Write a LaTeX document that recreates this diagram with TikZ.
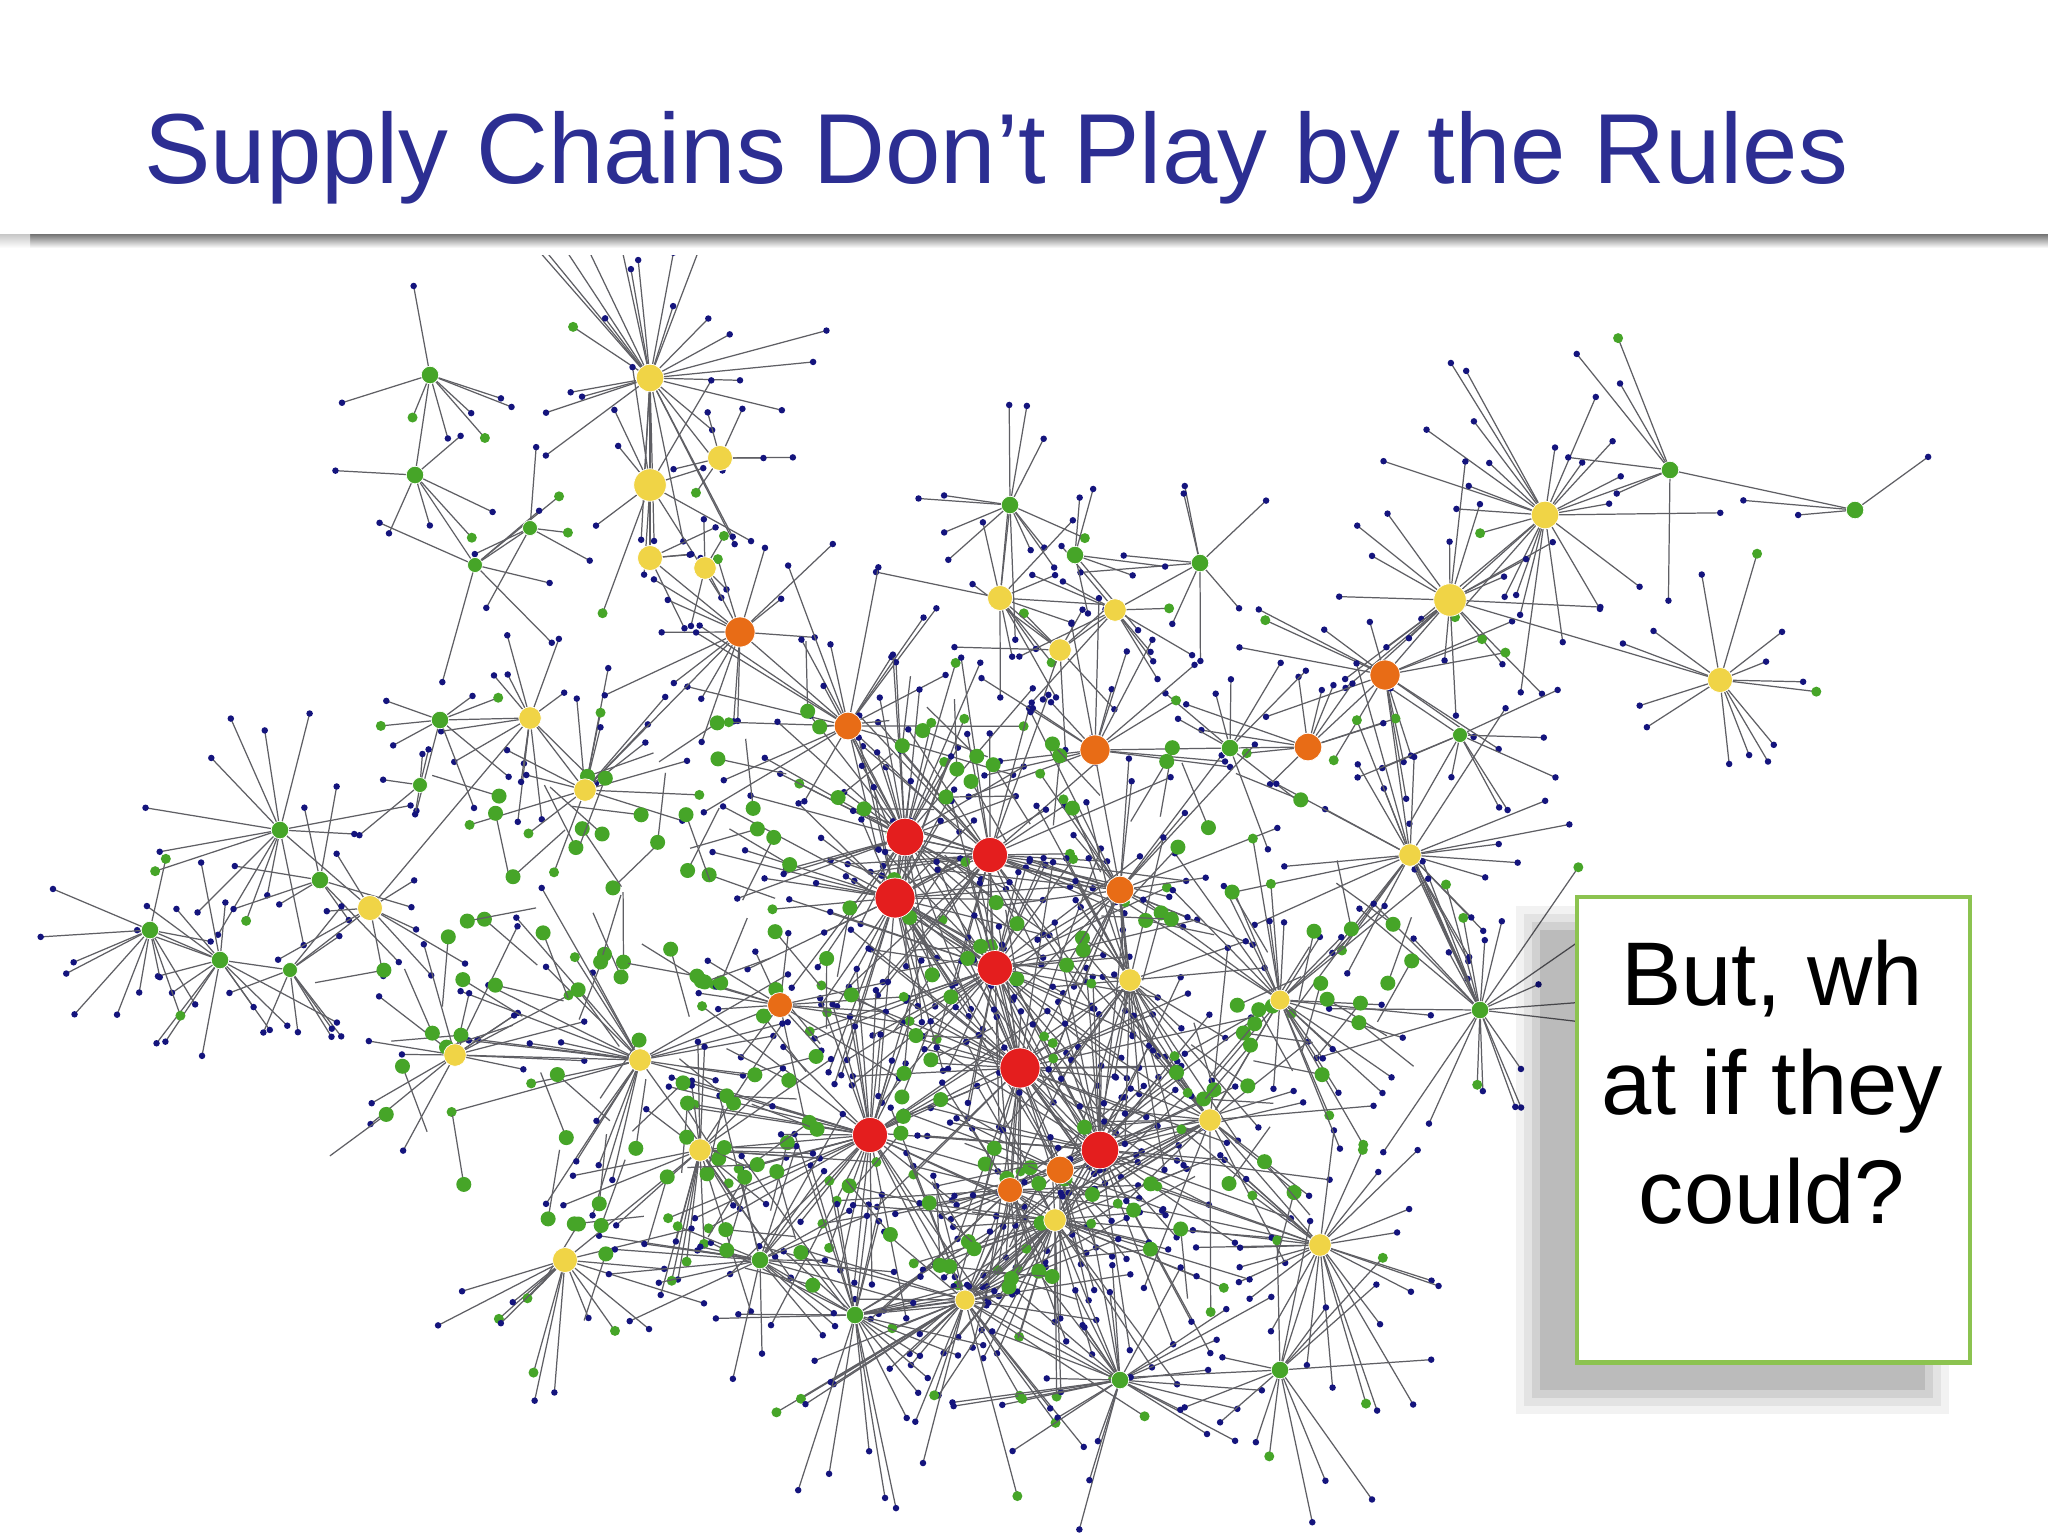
\documentclass[tikz,border=0pt]{standalone}
\usepackage{fontspec}
\setmainfont{Liberation Sans}
\begin{document}
\begin{tikzpicture}[x=0.01cm,y=-0.01cm]
\definecolor{titleblue}{RGB}{44,46,146}
\definecolor{yellowN}{RGB}{240,212,70}
\definecolor{greenN}{RGB}{70,165,40}
\definecolor{orangeN}{RGB}{232,108,22}
\definecolor{redN}{RGB}{228,30,30}
\definecolor{navyN}{RGB}{20,20,125}
\definecolor{edgeC}{RGB}{95,95,100}
\definecolor{boxG}{RGB}{140,195,80}
\tikzset{
 edge/.style={draw=edgeC,line width=0.35pt},
 leaf/.style={circle,fill=navyN,inner sep=0pt,minimum size=0.065cm},
 leafg/.style={circle,fill=greenN,inner sep=0pt,minimum size=0.1cm},
 hub/.style={circle,inner sep=0pt,draw=white,line width=0.2pt}
}
\useasboundingbox (0,0) rectangle (2048,1536);
\fill[white] (0,0) rectangle (2048,1536);
% title
\node[anchor=west,text=titleblue,font=\fontsize{28.3}{32}\selectfont] (title) at (132,158) {Supply Chains Don’t Play by the Rules};
\shade[top color=black!55,bottom color=white] (0,234) rectangle (2048,248);
\shade[left color=white,right color=white,opacity=0.6] (0,232) rectangle (30,250);
\begin{scope}
\clip (0,255) rectangle (2048,1536);
\pgfmathsetseed{7}
% hubs with leaves
\foreach \x/\y/\c/\r/\n/\R in {
650/378/yellowN/22/30/190, 430/375/greenN/14/8/110, 415/475/greenN/14/6/120, 475/565/greenN/12/6/140, 530/528/greenN/12/5/100, 650/485/yellowN/26/10/140, 720/458/yellowN/20/6/100, 650/558/yellowN/20/4/80, 705/568/yellowN/18/4/80,
530/718/yellowN/18/12/110, 440/720/greenN/14/8/100, 420/785/greenN/12/5/80, 280/830/greenN/14/14/140, 320/880/greenN/14/8/120, 370/908/yellowN/20/8/120, 220/960/greenN/14/14/140, 290/970/greenN/12/8/100, 585/790/yellowN/18/15/140,
1010/505/greenN/14/12/140, 1000/598/yellowN/20/12/130, 1060/650/yellowN/18/8/110, 1115/610/yellowN/18/10/140, 1200/563/greenN/14/8/120, 1075/555/greenN/14/6/110,
1545/515/yellowN/22/25/180, 1450/600/yellowN/26/20/160, 1385/675/orangeN/24/15/150, 1308/747/orangeN/22/10/130, 1720/680/yellowN/20/14/140, 1670/470/greenN/14/6/150, 1855/510/greenN/14/3/150, 1230/748/greenN/14/8/120, 1460/735/greenN/12/10/120,
740/632/orangeN/24/15/150, 848/726/orangeN/22/20/180, 905/837/redN/30/40/200, 990/855/redN/28/40/200, 895/898/redN/32/45/200, 995/968/redN/28/40/220, 1020/1068/redN/32/45/240, 870/1135/redN/28/45/220, 1100/1150/redN/30/45/240, 1095/750/orangeN/24/15/160, 1120/890/orangeN/22/30/200, 780/1005/orangeN/20/15/150, 1010/1190/orangeN/20/25/200, 1060/1170/orangeN/22/20/180, 1410/855/yellowN/18/25/200, 1130/980/yellowN/18/30/200, 1210/1120/yellowN/18/25/200, 1320/1245/yellowN/18/30/200, 1055/1220/yellowN/18/40/220, 965/1300/yellowN/16/40/220, 640/1060/yellowN/18/25/200, 700/1150/yellowN/18/25/180, 565/1260/yellowN/20/15/150, 455/1055/yellowN/18/15/150, 855/1315/greenN/14/30/200, 1120/1380/greenN/14/30/180, 1280/1370/greenN/14/15/160, 1480/1010/greenN/14/25/180, 760/1260/greenN/14/25/170, 1280/1000/yellowN/16/30/200, 150/930/greenN/14/12/120}
{
 \foreach \i in {1,...,\n}{
  \pgfmathsetmacro\a{rnd*360}
  \pgfmathsetmacro\d{\R*(0.35+0.65*rnd)}
  \pgfmathsetmacro\g{rnd<0.12?1:0}
  \ifdim\g pt>0.5pt
   \draw[edge] (\x,\y) -- ++(\a:\d) node[leafg]{};
  \else
   \draw[edge] (\x,\y) -- ++(\a:\d) node[leaf]{};
  \fi
 }
}
% hub to hub links
\foreach \ax/\ay/\bx/\by in {650/378/650/485, 650/485/650/558, 650/558/740/632, 740/632/848/726, 848/726/905/837, 905/837/990/855, 895/898/995/968, 995/968/1020/1068, 1020/1068/1100/1150, 870/1135/1020/1068, 1308/747/1385/675, 1385/675/1450/600, 1450/600/1545/515, 1545/515/1670/470, 1670/470/1855/510, 1308/747/1230/748, 1230/748/1095/750, 1385/675/1410/855, 1000/598/1010/505, 1060/650/1000/598, 1060/650/1115/610, 1115/610/1200/563, 530/718/585/790, 585/790/740/632, 370/908/530/718, 280/830/370/908, 220/960/290/970, 290/970/370/908, 440/720/530/718, 1450/600/1720/680, 1410/855/1480/1010, 1130/980/1120/890, 1210/1120/1280/1000, 1320/1245/1280/1370, 455/1055/640/1060, 640/1060/780/1005, 700/1150/870/1135, 565/1260/700/1150, 760/1260/855/1315, 965/1300/1055/1220, 1120/1380/1055/1220, 430/375/415/475, 415/475/475/565, 475/565/530/528, 150/930/220/960}
 { \draw[edge] (\ax,\ay) -- (\bx,\by); }
% random green nodes in core
\foreach \i in {1,...,170}{
 \pgfmathsetmacro\a{rnd*360}
 \pgfmathsetmacro\d{sqrt(rnd)}
 \pgfmathsetmacro\px{900+560*\d*cos(\a)}
 \pgfmathsetmacro\py{1000+300*\d*sin(\a)}
 \pgfmathsetmacro\qa{rnd*360}
 \draw[edge] (\px,\py) -- ++(\qa:70);
 \node[leafg,minimum size=0.15cm] at (\px,\py) {};
}
% hubs
\foreach \x/\y/\c/\r in {650/378/yellowN/22, 430/375/greenN/14, 415/475/greenN/14, 475/565/greenN/12, 530/528/greenN/12, 650/485/yellowN/26, 720/458/yellowN/20, 650/558/yellowN/20, 705/568/yellowN/18, 530/718/yellowN/18, 440/720/greenN/14, 420/785/greenN/12, 280/830/greenN/14, 320/880/greenN/14, 370/908/yellowN/20, 220/960/greenN/14, 290/970/greenN/12, 585/790/yellowN/18, 1010/505/greenN/14, 1000/598/yellowN/20, 1060/650/yellowN/18, 1115/610/yellowN/18, 1200/563/greenN/14, 1075/555/greenN/14, 1545/515/yellowN/22, 1450/600/yellowN/26, 1385/675/orangeN/24, 1308/747/orangeN/22, 1720/680/yellowN/20, 1670/470/greenN/14, 1855/510/greenN/14, 1230/748/greenN/14, 1460/735/greenN/12, 740/632/orangeN/24, 848/726/orangeN/22, 905/837/redN/30, 990/855/redN/28, 895/898/redN/32, 995/968/redN/28, 1020/1068/redN/32, 870/1135/redN/28, 1100/1150/redN/30, 1095/750/orangeN/24, 1120/890/orangeN/22, 780/1005/orangeN/20, 1010/1190/orangeN/20, 1060/1170/orangeN/22, 1410/855/yellowN/18, 1130/980/yellowN/18, 1210/1120/yellowN/18, 1320/1245/yellowN/18, 1055/1220/yellowN/18, 965/1300/yellowN/16, 640/1060/yellowN/18, 700/1150/yellowN/18, 565/1260/yellowN/20, 455/1055/yellowN/18, 855/1315/greenN/14, 1120/1380/greenN/14, 1280/1370/greenN/14, 1480/1010/greenN/14, 760/1260/greenN/14, 1280/1000/yellowN/16, 150/930/greenN/14}
 { \node[hub,fill=\c,minimum size=\r*0.0125 cm] at (\x,\y) {}; }
\end{scope}
% text box with shadow
\foreach \k/\o in {24/0.05,16/0.06,8/0.08,0/0.10}
 { \fill[black,opacity=\o] (1540-\k,930-\k) rectangle (1925+\k,1390+\k); }
\node[draw=boxG,line width=1.2pt,fill=white,minimum width=3.93cm,minimum height=4.65cm,anchor=north west] (box) at (1575,895) {};
\node[align=center,font=\fontsize{25.7}{31}\selectfont,anchor=north] (txt) at (1772,928) {But, wh\\at if they\\could?};
\end{tikzpicture}
\end{document}
